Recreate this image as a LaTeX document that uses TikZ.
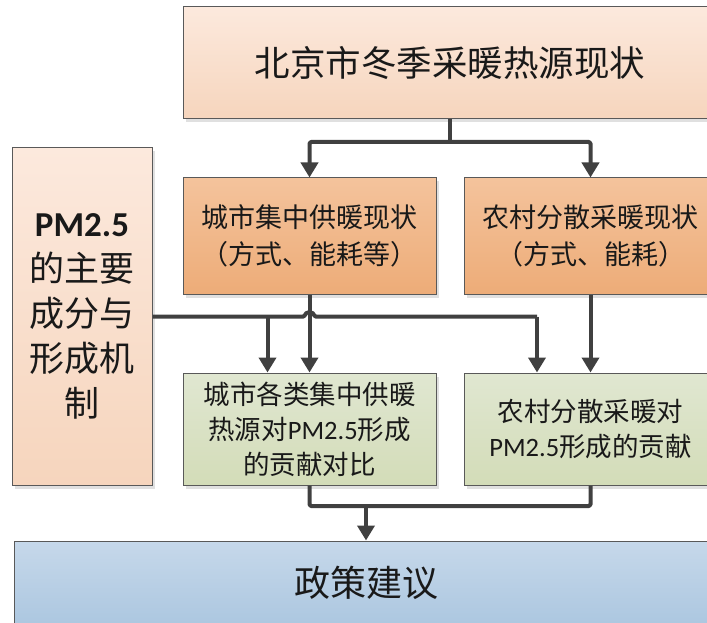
\documentclass[tikz,border=0pt]{standalone}
\usepackage{fontspec}
\setmainfont{Noto Sans CJK SC}
\newfontfamily\lat{Carlito}
\usetikzlibrary{arrows.meta,shadows,calc}
\definecolor{bordergray}{RGB}{89,89,89}
\definecolor{lineg}{RGB}{64,64,64}
\definecolor{peachT}{RGB}{252,233,221}
\definecolor{peachB}{RGB}{246,213,189}
\definecolor{orangeT}{RGB}{244,195,156}
\definecolor{orangeB}{RGB}{237,172,120}
\definecolor{greenT}{RGB}{224,231,209}
\definecolor{greenB}{RGB}{211,220,184}
\definecolor{blueT}{RGB}{198,216,234}
\definecolor{blueB}{RGB}{172,199,224}
\begin{document}
\begin{tikzpicture}[x=1pt,y=-1pt,
  box/.style={draw=bordergray, line width=1pt, inner sep=0pt, align=center, text=black!90,
    drop shadow={shadow xshift=3pt,shadow yshift=-3.5pt,fill=black!12,opacity=1}},
  peachbox/.style={box, top color=peachT, bottom color=peachB},
  orangebox/.style={box, top color=orangeT, bottom color=orangeB,
    minimum width=253pt, minimum height=116pt, font=\fontsize{27}{37}\selectfont},
  greenbox/.style={box, top color=greenT, bottom color=greenB,
    minimum width=253pt, minimum height=112pt, font=\fontsize{26.5}{35}\selectfont},
  bluebox/.style={box, top color=blueT, bottom color=blueB},
  conn/.style={line width=4pt, draw=lineg, line join=round, rounded corners=1.5pt,
    -{Triangle[width=17pt,length=15pt]}},
  link/.style={line width=4pt, draw=lineg, line join=round, rounded corners=1.5pt}
]
\useasboundingbox (0,0) rectangle (707,623);
\clip (0,0) rectangle (707,623);

% boxes
\node[peachbox, minimum width=534pt, minimum height=112pt, font=\fontsize{35.5}{40}\selectfont]
  (top) at (450,63) {北京市冬季采暖热源现状};
\node[peachbox, minimum width=140pt, minimum height=337pt, font=\fontsize{35}{45}\selectfont]
  (left) at (82,316.5) {{\lat\bfseries PM2.5}\\的主要\\成分与\\形成机\\制};
\node[orangebox] (o1) at (309.5,236) {城市集中供暖现状\\（方式、能耗等）};
\node[orangebox] (o2) at (590.5,236) {农村分散采暖现状\\（方式、能耗）};
\node[greenbox] (g1) at (309.5,429) {城市各类集中供暖\\热源对{\lat PM2.5}形成\\的贡献对比};
\node[greenbox] (g2) at (590.5,429) {农村分散采暖对\\{\lat PM2.5}形成的贡献};
\node[bluebox, minimum width=704pt, minimum height=84pt, font=\fontsize{36}{40}\selectfont]
  (bot) at (366,583) {政策建议};

% connectors from top
\draw[link] (top.south) -- ++(0,22.5) coordinate (tj);
\draw[conn] (tj) -| (o1.north);
\draw[conn] (tj) -| (o2.north);

% orange to green
\draw[conn] (o1.south) -- (g1.north);
\draw[conn] (o2.south) -- (g2.north);

% left box to green boxes (with a hop over the vertical line)
\coordinate (b1) at (267.5,316.5);
\coordinate (b2) at (537,316.5);
\coordinate (h1) at ($(left.east -| o1.south)+(-4.5,0)$);
\draw[link] (left.east) -- (h1) arc[start angle=180,end angle=0,radius=4.5pt] -- (b2);
\draw[conn] (b2) -- (b2 |- g2.north);
\draw[conn] (b1) -- (b1 |- g1.north);

% green to bottom
\coordinate (bj) at (366,506);
\draw[link] (g1.south) |- (bj) -| (g2.south);
\draw[conn] (bj) -- (bot.north);
\end{tikzpicture}
\end{document}
